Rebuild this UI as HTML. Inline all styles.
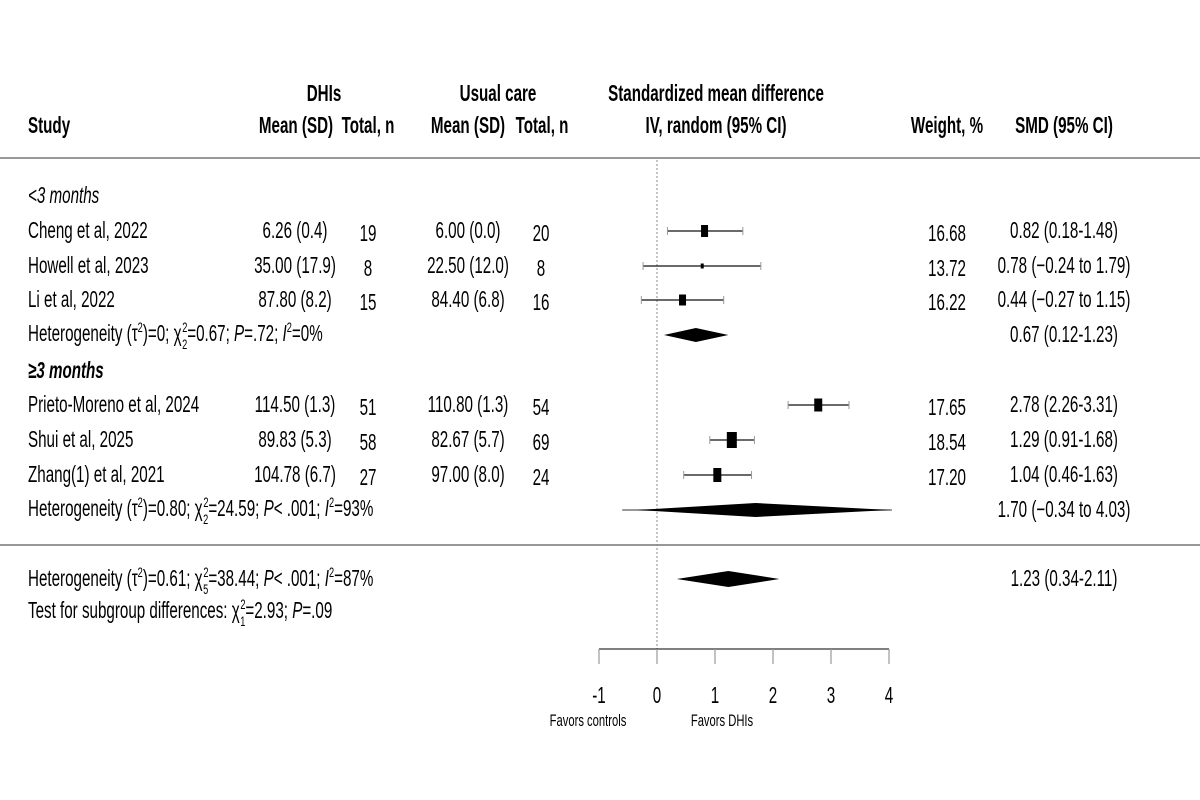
<!DOCTYPE html>
<html><head><meta charset="utf-8"><style>
html,body{margin:0;padding:0;background:#fff;}
svg{display:block;font-family:"Liberation Sans",Arial,sans-serif;}
</style></head><body>
<svg id="plot" width="1200" height="800" viewBox="0 0 1200 800">
<rect width="1200" height="800" fill="#fff"/>
<g id="txt"></g><g id="marks"></g>
</svg>
<script>
// ---- data ----
const studies = ["Cheng et al, 2022","Howell et al, 2023","Li et al, 2022","Prieto-Moreno et al, 2024","Shui et al, 2025","Zhang(1) et al, 2021"];
const dhiMean = ["6.26 (0.4)","35.00 (17.9)","87.80 (8.2)","114.50 (1.3)","89.83 (5.3)","104.78 (6.7)"];
const dhiN = ["19","8","15","51","58","27"];
const ucMean = ["6.00 (0.0)","22.50 (12.0)","84.40 (6.8)","110.80 (1.3)","82.67 (5.7)","97.00 (8.0)"];
const ucN = ["20","8","16","54","69","24"];
const smd = [0.82,0.78,0.44,2.78,1.29,1.04];
const ciLo = [0.18,-0.24,-0.27,2.26,0.91,0.46];
const ciHi = [1.48,1.79,1.15,3.31,1.68,1.63];
const weights = ["16.68","13.72","16.22","17.65","18.54","17.20"];
const smdText = ["0.82 (0.18-1.48)","0.78 (\u22120.24 to 1.79)","0.44 (\u22120.27 to 1.15)","2.78 (2.26-3.31)","1.29 (0.91-1.68)","1.04 (0.46-1.63)"];
const boxW = [7,3,7,8,10,8];
const boxH = [12,5,11,13,16,14];
const rowY = [231,266,300,405,440,475];
const poolEst = [0.67,1.70,1.23];
const poolLo = [0.12,-0.34,0.34];
const poolHi = [1.23,4.03,2.11];
const poolPredLo = [null,-0.6,null];
const poolPredHi = [null,4.05,null];
const poolText = ["0.67 (0.12-1.23)","1.70 (\u22120.34 to 4.03)","1.23 (0.34-2.11)"];
const poolY = [335,510,579];
const ticks = [-1,0,1,2,3,4];

const NS="http://www.w3.org/2000/svg";
const X = v => 657 + 58*v;
const T = document.getElementById('txt'), M = document.getElementById('marks');
const SX = 0.66, FS = 23;
function el(tag, attrs, parent){const e=document.createElementNS(NS,tag);for(const k in attrs)e.setAttribute(k,attrs[k]);parent.appendChild(e);return e;}
function txt(x,y,str,anchor,name,opt){
  opt=opt||{};
  const e=document.createElementNS(NS,'text');
  e.setAttribute('transform','translate('+x+','+y+') scale('+(opt.sx||SX)+',1)');
  e.setAttribute('text-anchor',anchor||'start');
  e.setAttribute('font-size',opt.fs||FS);
  if(opt.bold)e.setAttribute('font-weight','bold');
  if(opt.italic)e.setAttribute('font-style','italic');
  e.setAttribute('fill','#000');
  if(opt.html)e.innerHTML=str;else e.textContent=str;
  
  
  T.appendChild(e);return e;
}
// headers
txt(28,133,"Study","start","header-study",{bold:1});
txt(324,101,"DHIs","middle","header-dhis",{bold:1});
txt(296,133,"Mean (SD)","middle","header-dhis-mean",{bold:1});
txt(368,133,"Total, n","middle","header-dhis-n",{bold:1});
txt(498,101,"Usual care","middle","header-usual-care",{bold:1});
txt(468,133,"Mean (SD)","middle","header-uc-mean",{bold:1});
txt(542,133,"Total, n","middle","header-uc-n",{bold:1});
txt(716,101,"Standardized mean difference","middle","header-smd-title",{bold:1});
txt(716,133,"IV, random (95% CI)","middle","header-method",{bold:1});
txt(947,133,"Weight, %","middle","header-weight",{bold:1});
txt(1064,133,"SMD (95% CI)","middle","header-smd-ci",{bold:1});

el('line',{x1:0,x2:1200,y1:158,y2:158,stroke:'#777','stroke-width':1.5,},M);
el('line',{x1:0,x2:1200,y1:545,y2:545,stroke:'#777','stroke-width':1.5,},M);

txt(28,203,"&lt;3 months","start","subgroup-lt3-label",{italic:1,html:1});
txt(28,378,"\u22653 months","start","subgroup-ge3-label",{italic:1,bold:1});

const sup='<tspan font-size="14" dy="-9">2</tspan><tspan dy="9">';
function het(tau,df,chi,p,i2){
  return 'Heterogeneity (\u03c4'+sup+')=' + tau + '; \u03c7<tspan font-size="14" dy="-9" dx="1">2</tspan><tspan font-size="14" dy="17" dx="-8">'+df+'</tspan><tspan dy="-8">=' + chi + '; <tspan font-style="italic">P</tspan>' + p + '; <tspan font-style="italic">I</tspan></tspan><tspan font-size="14" dy="-9">2</tspan><tspan dy="9">=' + i2 + '</tspan></tspan>';
}
txt(28,341,het('0','2','0.67','=.72','0%'),"start","heterogeneity-lt3",{html:1});
txt(28,516,het('0.80','2','24.59','&lt; .001','93%'),"start","heterogeneity-ge3",{html:1});
txt(28,586,het('0.61','5','38.44','&lt; .001','87%'),"start","heterogeneity-overall",{html:1});
txt(28,618,'Test for subgroup differences: \u03c7<tspan font-size="14" dy="-9" dx="1">2</tspan><tspan font-size="14" dy="17" dx="-8">1</tspan><tspan dy="-8">=2.93; <tspan font-style="italic">P</tspan>=.09</tspan>',"start","subgroup-difference-test",{html:1});

// dotted null line
el('line',{x1:X(0),x2:X(0),y1:160,y2:649,stroke:'#888','stroke-width':1,'stroke-dasharray':'2,2',},M);

studies.forEach((s,i)=>{
  const y=rowY[i];
  txt(28,y+7,s,"start","study-name");
  txt(295,y+7,dhiMean[i],"middle","dhi-mean-sd");
  txt(368,y+10,dhiN[i],"middle","dhi-total");
  txt(468,y+7,ucMean[i],"middle","uc-mean-sd");
  txt(541,y+10,ucN[i],"middle","uc-total");
  txt(966,y+10,weights[i],"end","weight-value");
  txt(1064,y+7,smdText[i],"middle","smd-ci-value");
  const ci=el('line',{x1:X(ciLo[i]),x2:X(ciHi[i]),y1:y,y2:y,stroke:'#111','stroke-width':1.2},M);
  
  
  [ciLo[i],ciHi[i]].forEach(v=>{const c=el('line',{x1:X(v),x2:X(v),y1:y-4,y2:y+4,stroke:'#999','stroke-width':1},M);
    
    });
  const b=el('rect',{x:X(smd[i])-boxW[i]/2,y:y-boxH[i]/2,width:boxW[i],height:boxH[i],fill:'#000'},M);
  
  
});

poolEst.forEach((e,i)=>{
  const y=poolY[i], h=i==2?8:7;
  if(poolPredLo[i]!==null){
    const l=el('line',{x1:X(poolPredLo[i]),x2:X(poolPredHi[i]),y1:y,y2:y,stroke:'#777','stroke-width':1.5},M);
    
    
  }
  const d=el('polygon',{points:X(poolLo[i])+','+y+' '+X(e)+','+(y-h)+' '+X(poolHi[i])+','+y+' '+X(e)+','+(y+h),fill:'#000'},M);
  
  
  txt(1064,y+7,poolText[i],"middle","pooled-smd-value");
});

// axis
el('line',{x1:X(ticks[0]),x2:X(ticks[ticks.length-1]),y1:649,y2:649,stroke:'#000','stroke-width':1,},M);
ticks.forEach(t=>{
  const k=el('line',{x1:X(t),x2:X(t),y1:649,y2:664,stroke:'#999','stroke-width':1.2},M);
  
  
  txt(X(t),703,String(t),"middle","x-tick-label");
});
txt(588,726,"Favors controls","middle","favors-controls-label",{fs:17});
txt(722,726,"Favors DHIs","middle","favors-dhis-label",{fs:17});
</script>
</body></html>
